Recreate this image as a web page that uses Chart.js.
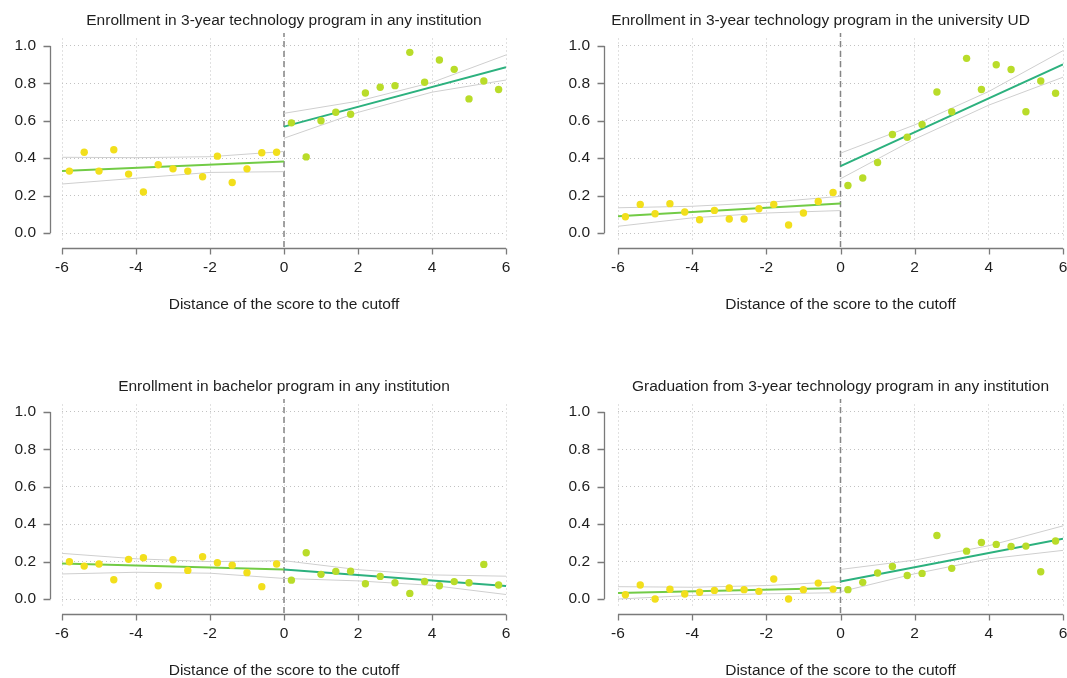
<!DOCTYPE html>
<html lang="en">
<head>
    <meta charset="UTF-8">
    <title>RD plots - enrollment and graduation</title>
    <script src="https://cdn.jsdelivr.net/npm/chart.js"></script>
    <style>
        html, body { margin: 0; padding: 0; background: #fff; overflow: hidden; }
        canvas.panel { position: absolute; }
    </style>
</head>
<body>
    <canvas id="p1" class="panel" width="533" height="312" style="left:0;top:0"></canvas>
    <canvas id="p2" class="panel" width="534" height="312" style="left:533px;top:0"></canvas>
    <canvas id="p3" class="panel" width="533" height="312" style="left:0;top:366px"></canvas>
    <canvas id="p4" class="panel" width="534" height="312" style="left:533px;top:366px"></canvas>

    <script>
        // bins (score distance), ticks
        const xLeft = [-5.8, -5.4, -5.0, -4.6, -4.2, -3.8, -3.4, -3.0, -2.6, -2.2, -1.8, -1.4, -1.0, -0.6, -0.2];
        const xRight = [0.2, 0.6, 1.0, 1.4, 1.8, 2.2, 2.6, 3.0, 3.4, 3.8, 4.2, 4.6, 5.0, 5.4, 5.8];
        const fitXLeft = [-6, 0];
        const fitXRight = [0, 6];
        const ciXLeft = [-6, -4, -2, 0];
        const ciXRight = [0, 2, 4, 6];
        const xTicks = [-6, -4, -2, 0, 2, 4, 6];
        const yTicks = [0, 0.2, 0.4, 0.6, 0.8, 1.0];
        const cutoff = 0;
        const cutoffSpan = [-0.075, 1.07];
        const xTitle = 'Distance of the score to the cutoff';

        // panel 1: 3-year technology program, any institution
        const anyTechTitle = 'Enrollment in 3-year technology program in any institution';
        const anyTechLeft = [0.331, 0.432, 0.331, 0.445, 0.315, 0.219, 0.365, 0.343, 0.331, 0.301, 0.411, 0.270, 0.343, 0.429, 0.432];
        const anyTechRight = [0.589, 0.407, 0.600, 0.646, 0.635, 0.749, 0.779, 0.788, 0.966, 0.806, 0.925, 0.875, 0.717, 0.813, 0.767];
        const anyTechFitL = [0.331, 0.383];
        const anyTechFitR = [0.569, 0.886];
        const anyTechCiLHi = [0.405, 0.403, 0.408, 0.436];
        const anyTechCiLLo = [0.262, 0.293, 0.324, 0.328];
        const anyTechCiRHi = [0.640, 0.705, 0.805, 0.952];
        const anyTechCiRLo = [0.507, 0.645, 0.753, 0.818];

        // panel 2: 3-year technology program, university UD
        const udTechTitle = 'Enrollment in 3-year technology program in the university UD';
        const udTechLeft = [0.087, 0.153, 0.103, 0.157, 0.112, 0.071, 0.121, 0.075, 0.075, 0.130, 0.153, 0.043, 0.107, 0.169, 0.217];
        const udTechRight = [0.254, 0.294, 0.377, 0.527, 0.512, 0.580, 0.754, 0.648, 0.934, 0.767, 0.900, 0.874, 0.648, 0.813, 0.747];
        const udTechFitL = [0.089, 0.158];
        const udTechFitR = [0.358, 0.902];
        const udTechCiLHi = [0.135, 0.143, 0.163, 0.196];
        const udTechCiLLo = [0.036, 0.081, 0.107, 0.120];
        const udTechCiRHi = [0.427, 0.578, 0.757, 0.975];
        const udTechCiRLo = [0.290, 0.502, 0.684, 0.833];

        // panel 3: bachelor program, any institution
        const bachTitle = 'Enrollment in bachelor program in any institution';
        const bachLeft = [0.199, 0.176, 0.187, 0.103, 0.212, 0.221, 0.071, 0.210, 0.153, 0.226, 0.194, 0.181, 0.141, 0.066, 0.187];
        const bachRight = [0.101, 0.247, 0.132, 0.148, 0.149, 0.082, 0.121, 0.087, 0.030, 0.094, 0.071, 0.093, 0.087, 0.185, 0.075];
        const bachFitL = [0.190, 0.158];
        const bachFitR = [0.158, 0.070];
        const bachCiLHi = [0.244, 0.215, 0.200, 0.205];
        const bachCiLLo = [0.134, 0.143, 0.138, 0.110];
        const bachCiRHi = [0.205, 0.157, 0.129, 0.122];
        const bachCiRLo = [0.110, 0.097, 0.073, 0.024];

        // panel 4: graduation from 3-year technology program
        const gradTitle = 'Graduation from 3-year technology program in any institution';
        const gradLeft = [0.023, 0.075, 0.0, 0.052, 0.027, 0.036, 0.046, 0.059, 0.050, 0.041, 0.107, 0.0, 0.050, 0.085, 0.053];
        const gradRight = [0.050, 0.089, 0.139, 0.174, 0.126, 0.137, 0.340, 0.164, 0.256, 0.302, 0.292, 0.281, 0.283, 0.146, 0.310];
        const gradFitL = [0.032, 0.059];
        const gradFitR = [0.094, 0.322];
        const gradCiLHi = [0.066, 0.063, 0.072, 0.093];
        const gradCiLLo = [0.000, 0.019, 0.028, 0.034];
        const gradCiRHi = [0.158, 0.208, 0.285, 0.391];
        const gradCiRLo = [0.039, 0.135, 0.215, 0.260];

        const FONT = 'Liberation Sans, Arial, Helvetica, sans-serif';
        const TEXT = '#1e1e1e';
        const AXIS = '#7a7a7a';

        const pts = (xs, ys) => xs.map((x, i) => ({ x: x, y: ys[i] }));

        // R-style detached axes: x line from first to last tick, y line from 0 to 1
        function rAxes(yGap, titleShift) {
            return {
                id: 'rAxes',
                afterLayout(chart) {
                    const t = chart.scales.x2;
                    t.left += titleShift; t.right += titleShift;
                },
                afterDraw(chart) {
                    const { ctx, chartArea } = chart;
                    const xs = chart.scales.x, ys = chart.scales.y;
                    ctx.save();
                    ctx.strokeStyle = AXIS;
                    ctx.lineWidth = 1.3;
                    const by = Math.round(chartArea.bottom + 7) + 0.5;
                    ctx.beginPath();
                    ctx.moveTo(xs.getPixelForValue(xTicks[0]), by);
                    ctx.lineTo(xs.getPixelForValue(xTicks[xTicks.length - 1]), by);
                    xTicks.forEach(v => {
                        const px = Math.round(xs.getPixelForValue(v)) + 0.5;
                        ctx.moveTo(px, by); ctx.lineTo(px, by + 6);
                    });
                    const lx = Math.round(chartArea.left - yGap) + 0.5;
                    ctx.moveTo(lx, ys.getPixelForValue(yTicks[0]));
                    ctx.lineTo(lx, ys.getPixelForValue(yTicks[yTicks.length - 1]));
                    yTicks.forEach(v => {
                        const py = Math.round(ys.getPixelForValue(v)) + 0.5;
                        ctx.moveTo(lx, py); ctx.lineTo(lx - 7, py);
                    });
                    ctx.stroke();
                    ctx.restore();
                }
            };
        }

        function makePanel(id, title, d, lay) {
            const line = (data, color, width, order) => ({
                data: data, showLine: true, pointRadius: 0, borderColor: color,
                borderWidth: width, xAxisID: 'x', yAxisID: 'y', order: order
            });
            const datasets = [
                { data: pts(xLeft, d.left), pointRadius: 3.7, borderWidth: 0, backgroundColor: '#f2df1c', xAxisID: 'x', yAxisID: 'y', order: 0 },
                { data: pts(xRight, d.right), pointRadius: 3.7, borderWidth: 0, backgroundColor: '#b9dc29', xAxisID: 'x', yAxisID: 'y', order: 0 },
                line(pts(fitXLeft, d.fitL), '#72cb46', 2, 1),
                line(pts(fitXRight, d.fitR), '#2cb17e', 2, 1),
                line(pts(ciXLeft, d.ciLHi), '#cfcfcf', 1, 2),
                line(pts(ciXLeft, d.ciLLo), '#cfcfcf', 1, 2),
                line(pts(ciXRight, d.ciRHi), '#cfcfcf', 1, 2),
                line(pts(ciXRight, d.ciRLo), '#cfcfcf', 1, 2),
                Object.assign(line(cutoffSpan.map(v => ({ x: cutoff, y: v })), '#858585', 1.5, 3), { borderDash: [6, 4], clip: false })
            ];
            const tickFont = { family: FONT, size: 15.5 };
            new Chart(document.getElementById(id), {
                type: 'scatter',
                data: { datasets: datasets },
                options: {
                    responsive: false,
                    animation: false,
                    events: [],
                    layout: { padding: { left: 0, right: lay.right, top: 0, bottom: 0 } },
                    plugins: { legend: { display: false }, tooltip: { enabled: false } },
                    scales: {
                        x: {
                            type: 'linear', position: 'bottom', min: -6, max: 6,
                            afterBuildTicks: s => { s.ticks = xTicks.map(v => ({ value: v })); },
                            afterFit: s => { s.height = 71.5; s.paddingLeft = 0; s.paddingRight = 0; },
                            ticks: { font: tickFont, color: TEXT, padding: 18, maxRotation: 0, autoSkip: false, callback: v => String(v) },
                            grid: { color: '#c2c2c2', lineWidth: 1, drawTicks: false },
                            border: { display: false, dash: [1, 3] },
                            title: { display: true, text: xTitle, color: TEXT, font: { family: FONT, size: 15.5, lineHeight: 1 }, padding: { top: 0, bottom: 0 } }
                        },
                        x2: {
                            type: 'linear', position: 'top', min: -6, max: 6,
                            afterFit: s => { s.height = 38.5; s.paddingLeft = 0; s.paddingRight = 0; },
                            ticks: { display: false },
                            grid: { display: false, drawTicks: false },
                            border: { display: false },
                            title: { display: true, text: title, color: TEXT, font: { family: FONT, size: 15.5, lineHeight: 1 }, padding: { top: 13.2, bottom: 0 } }
                        },
                        y: {
                            type: 'linear', position: 'left', min: -0.04, max: 1.04,
                            afterBuildTicks: s => { s.ticks = yTicks.map(v => ({ value: v })); },
                            afterFit: s => { s.width = lay.left; s.paddingTop = 0; s.paddingBottom = 0; },
                            ticks: { font: tickFont, color: TEXT, padding: lay.ytp, callback: v => v.toFixed(1) },
                            grid: { color: '#c2c2c2', lineWidth: 1, drawTicks: false },
                            border: { display: false, dash: [1, 3] }
                        }
                    }
                },
                plugins: [rAxes(lay.yGap, lay.shift)]
            });
        }

        const leftCol = { left: 62, right: 27, ytp: 26, yGap: 12, shift: 0 };
        const rightCol = { left: 85, right: 4, ytp: 28, yGap: 14, shift: 0 };

        makePanel('p1', anyTechTitle, { left: anyTechLeft, right: anyTechRight, fitL: anyTechFitL, fitR: anyTechFitR, ciLHi: anyTechCiLHi, ciLLo: anyTechCiLLo, ciRHi: anyTechCiRHi, ciRLo: anyTechCiRLo }, leftCol);
        makePanel('p2', udTechTitle, { left: udTechLeft, right: udTechRight, fitL: udTechFitL, fitR: udTechFitR, ciLHi: udTechCiLHi, ciLLo: udTechCiLLo, ciRHi: udTechCiRHi, ciRLo: udTechCiRLo }, Object.assign({}, rightCol, { shift: -20 }));
        makePanel('p3', bachTitle, { left: bachLeft, right: bachRight, fitL: bachFitL, fitR: bachFitR, ciLHi: bachCiLHi, ciLLo: bachCiLLo, ciRHi: bachCiRHi, ciRLo: bachCiRLo }, leftCol);
        makePanel('p4', gradTitle, { left: gradLeft, right: gradRight, fitL: gradFitL, fitR: gradFitR, ciLHi: gradCiLHi, ciLLo: gradCiLLo, ciRHi: gradCiRHi, ciRLo: gradCiRLo }, rightCol);
    </script>
</body>
</html>
